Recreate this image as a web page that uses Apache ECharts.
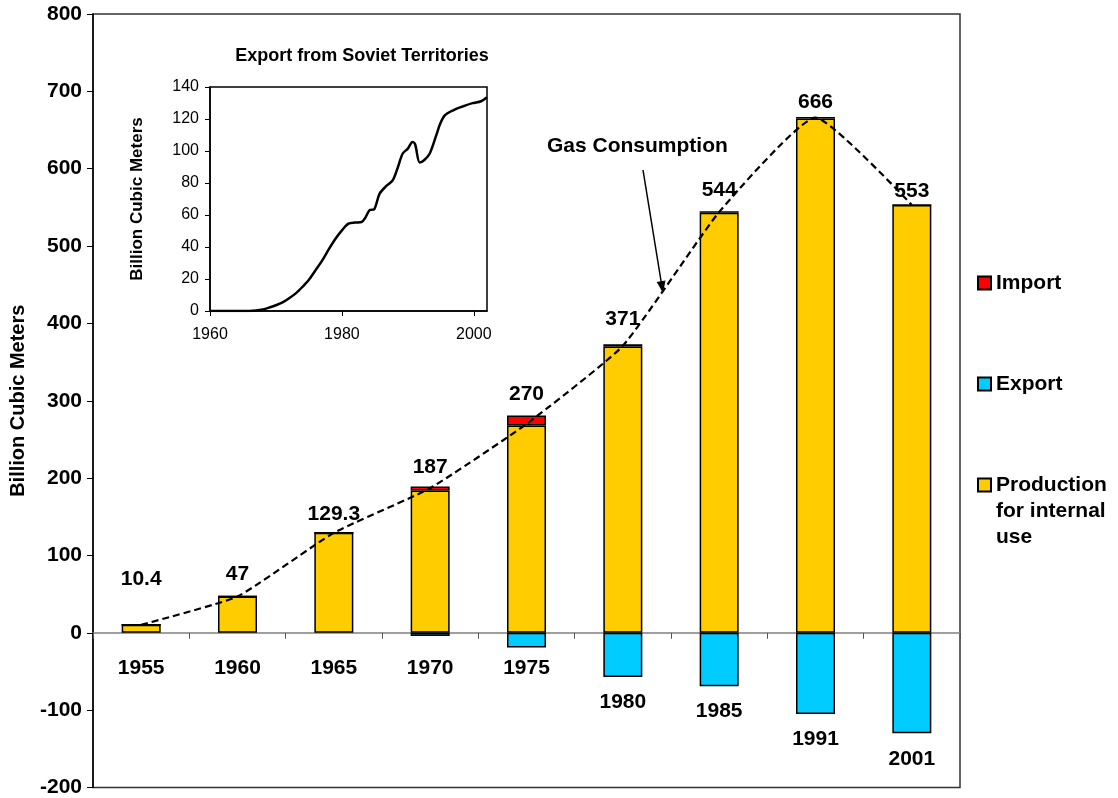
<!DOCTYPE html>
<html><head><meta charset="utf-8">
<script src="https://cdn.jsdelivr.net/npm/echarts@6/dist/echarts.min.js"></script>
<style>html,body{margin:0;padding:0;background:#fff}#c{width:1118px;height:798px}</style>
</head><body><div id="c"></div>
<script>
// ---- data ----
const categories = ['1955', '1960', '1965', '1970', '1975', '1980', '1985', '1991', '2001'];
const production = [10.4, 47, 129.3, 184, 268, 370, 543, 665, 553];
const imports = [0, 0, 0, 5, 13, 3, 2, 2, 0];
const exportsData = [0, 0, 0, -4, -19, -57, -69, -105, -130];
const consumption = [10.4, 47, 129.3, 187, 270, 371, 544, 666, 553];
const mainYTicks = [-200, -100, 0, 100, 200, 300, 400, 500, 600, 700, 800];

const insetYears = [1960, 1962, 1964, 1966, 1967, 1968, 1969, 1970, 1971, 1972, 1973, 1974, 1975, 1976, 1977, 1978, 1979, 1980, 1981, 1982, 1983, 1983.5, 1984.2, 1984.9, 1985.7, 1986.7, 1987.7, 1988.5, 1989.2, 1990, 1990.7, 1991.1, 1991.8, 1992.5, 1993.3, 1994.3, 1994.9, 1995.6, 1996.8, 1998.3, 1999.8, 2001.1, 2002];
const insetExport = [0, 0, 0, 0, 0.3, 1.0, 2.2, 3.6, 5.4, 8, 11, 15, 19.5, 25.5, 31.5, 38.5, 45, 50.4, 54.6, 55.3, 55.6, 58, 63, 63.6, 73.2, 78, 81.6, 90, 98.3, 101.5, 105.6, 104.2, 92.8, 94.4, 98.3, 109.8, 117, 122.2, 125.3, 127.8, 129.9, 131.1, 133.6];
const insetXTicks = [1960, 1980, 2000];
const insetYTicks = [0, 20, 40, 60, 80, 100, 120, 140];

// ---- styling helpers (not data) ----
const FONT = "'Liberation Sans', Arial, sans-serif";
const labelLift = [48, 24, 21, 23, 32, 28.5, 24, 17, 16]; // px above line point (label centre)
const labelAnchor = exportsData.map(v => (v < -40 ? v : -13));

const chart = echarts.init(document.getElementById('c'), null, { renderer: 'canvas' });

const barBase = {
  type: 'bar', xAxisIndex: 0, yAxisIndex: 0, stack: 'total', barWidth: 39, barGap: '-100%'
};
const legendBase = {
  orient: 'vertical', left: 977, padding: 0, itemWidth: 13, itemHeight: 13, itemGap: 0,
  icon: 'rect',
  textStyle: { fontSize: 21, fontWeight: 'bold', color: '#000', fontFamily: FONT, lineHeight: 26 }
};

const option = {
  backgroundColor: '#fff',
  animation: false,
  textStyle: { fontFamily: FONT },
  grid: [
    { left: 90, right: 158, top: 14, bottom: 9, show: true, borderColor: '#333', borderWidth: 1.5 },
    { left: 210, top: 87, width: 277, height: 224, show: true, borderColor: '#000', borderWidth: 1.5 }
  ],
  legend: [
    Object.assign({}, legendBase, { top: 270, data: ['Import'] }),
    Object.assign({}, legendBase, { top: 371, data: ['Export'] }),
    Object.assign({}, legendBase, {
      top: 420, data: ['Production for internal use'],
      formatter: () => '\n\nProduction\nfor internal\nuse'
    })
  ],
  xAxis: [
    {
      type: 'category', gridIndex: 0, data: categories,
      axisLine: { onZero: true, lineStyle: { color: '#808080', width: 1.5 } },
      axisTick: { show: true, interval: 0, length: 6, lineStyle: { color: '#555' } },
      axisLabel: { show: false }, splitLine: { show: false }
    },
    {
      type: 'value', gridIndex: 1, min: insetXTicks[0], max: 2002,
      axisLine: { show: true, onZero: false, lineStyle: { color: '#000', width: 1.5 } },
      axisTick: { show: true, customValues: insetXTicks, length: 5, lineStyle: { color: '#000' } },
      axisLabel: {
        customValues: insetXTicks, formatter: v => String(v),
        fontSize: 16, color: '#000', margin: 16, fontFamily: FONT
      },
      splitLine: { show: false }
    }
  ],
  yAxis: [
    {
      type: 'value', gridIndex: 0, min: mainYTicks[0], max: mainYTicks[mainYTicks.length - 1], interval: 100,
      name: 'Billion Cubic Meters', nameLocation: 'middle', nameGap: 65,
      nameTextStyle: { fontSize: 20, fontWeight: 'bold', color: '#000', fontFamily: FONT },
      axisLine: { show: true, lineStyle: { color: '#000', width: 1.5 } },
      axisTick: { show: true, length: 6, lineStyle: { color: '#000' } },
      axisLabel: { fontSize: 21, fontWeight: 'bold', color: '#000', margin: 11, fontFamily: FONT },
      splitLine: { show: false }
    },
    {
      type: 'value', gridIndex: 1, min: insetYTicks[0], max: insetYTicks[insetYTicks.length - 1], interval: 20,
      name: 'Billion Cubic Meters', nameLocation: 'middle', nameGap: 64,
      nameTextStyle: { fontSize: 17, fontWeight: 'bold', color: '#000', fontFamily: FONT },
      axisLine: { show: true, lineStyle: { color: '#000', width: 1.5 } },
      axisTick: { show: true, length: 5, lineStyle: { color: '#000' } },
      axisLabel: { fontSize: 16, color: '#000', margin: 11, fontFamily: FONT },
      splitLine: { show: false }
    }
  ],
  series: [
    Object.assign({}, barBase, {
      name: 'Production for internal use', data: production,
      itemStyle: { color: '#FFCC00', borderColor: '#000', borderWidth: 1.5 }
    }),
    Object.assign({}, barBase, {
      name: 'Import', data: imports,
      itemStyle: { color: '#FF0000', borderColor: '#000', borderWidth: 1.5 }
    }),
    Object.assign({}, barBase, {
      name: 'Export', data: exportsData,
      itemStyle: { color: '#00CCFF', borderColor: '#000', borderWidth: 1.5 }
    }),
    Object.assign({}, barBase, {
      name: 'yearLabels', stack: 'anchor', data: labelAnchor, silent: true,
      itemStyle: { color: 'rgba(0,0,0,0)', borderWidth: 0 },
      label: {
        show: true, position: 'bottom', distance: 15,
        formatter: p => categories[p.dataIndex],
        fontSize: 21, fontWeight: 'bold', color: '#000', fontFamily: FONT
      }
    }),
    {
      name: 'Gas Consumption', type: 'line', xAxisIndex: 0, yAxisIndex: 0, z: 10,
      smooth: 0.15, symbol: 'circle', symbolSize: 1, showSymbol: true,
      itemStyle: { color: 'rgba(0,0,0,0)' },
      lineStyle: { color: '#000', width: 2.2, type: [7, 4] },
      data: consumption.map((v, i) => ({ value: v, label: { distance: labelLift[i] - 13 } })),
      label: {
        show: true, position: 'top',
        formatter: p => String(consumption[p.dataIndex]),
        fontSize: 21, fontWeight: 'bold', color: '#000', fontFamily: FONT
      },
      labelLayout: { hideOverlap: false }
    },
    {
      name: 'Export from Soviet Territories', type: 'line', xAxisIndex: 1, yAxisIndex: 1,
      smooth: 0.3, symbol: 'none',
      lineStyle: { color: '#000', width: 2.5 },
      data: insetYears.map((y, i) => [y, insetExport[i]])
    }
  ],
  graphic: [
    {
      type: 'text', x: 362, y: 47, z: 100,
      style: {
        text: 'Export from Soviet Territories', align: 'center', textAlign: 'center',
        verticalAlign: 'top', textVerticalAlign: 'top',
        fontSize: 18, fontWeight: 'bold', fontFamily: FONT, fill: '#000'
      }
    },
    {
      type: 'text', x: 547, y: 136, z: 100,
      style: {
        text: 'Gas Consumption', align: 'left', textAlign: 'left',
        verticalAlign: 'top', textVerticalAlign: 'top',
        fontSize: 21, fontWeight: 'bold', fontFamily: FONT, fill: '#000'
      }
    },
    {
      type: 'line', z: 100,
      shape: { x1: 643, y1: 170, x2: 661.2, y2: 282 },
      style: { stroke: '#000', lineWidth: 1.5 }
    },
    {
      type: 'polygon', z: 100,
      shape: { points: [[663, 293], [665.5, 280.5], [656.7, 281.9]] },
      style: { fill: '#000' }
    }
  ]
};
chart.setOption(option);
</script>
</body></html>
